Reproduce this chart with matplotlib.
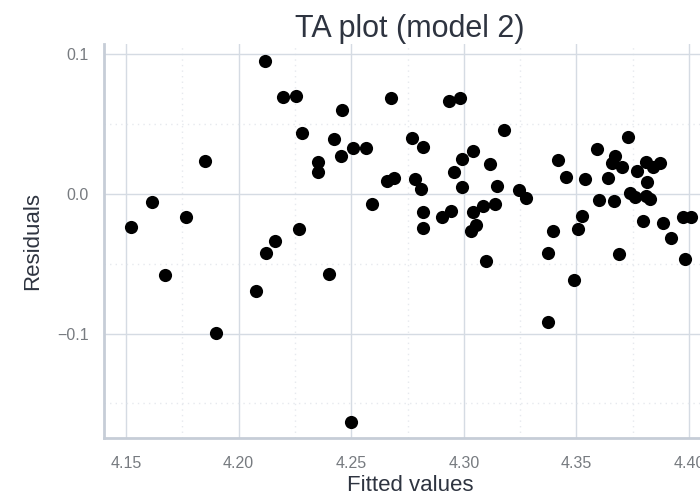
import matplotlib.pyplot as plt
from matplotlib.ticker import MultipleLocator

# fitted values and residuals
fitted = [4.2118, 4.2195, 4.2255, 4.2280, 4.1851, 4.1614, 4.1522, 4.1766, 4.2267, 4.2160,
          4.2121, 4.1673, 4.2076, 4.1898, 4.2401, 4.3098, 4.2499, 4.2678, 4.2934, 4.2982,
          4.2457, 4.2425, 4.2454, 4.2506, 4.2564, 4.2769, 4.2820, 4.2354, 4.2354, 4.2657,
          4.2690, 4.2781, 4.2808, 4.2593, 4.2817, 4.2820, 4.2901, 4.2943, 4.3042, 4.2993,
          4.3117, 4.2956, 4.2991, 4.3148, 4.3043, 4.3086, 4.3139, 4.3052, 4.3031, 4.3178,
          4.3244, 4.3275, 4.3398, 4.3419, 4.3456, 4.3537, 4.3592, 4.3670, 4.3660, 4.3704,
          4.3729, 4.3641, 4.3770, 4.3811, 4.3838, 4.3870, 4.3814, 4.3599, 4.3667, 4.3737,
          4.3759, 4.3811, 4.3829, 4.3523, 4.3508, 4.3796, 4.3885, 4.3922, 4.3974, 4.4011,
          4.3374, 4.3690, 4.3981, 4.3490, 4.3374]
residuals = [0.0951, 0.0698, 0.0705, 0.0435, 0.0239, -0.0060, -0.0239, -0.0167, -0.0251, -0.0335,
             -0.0425, -0.0578, -0.0693, -0.0999, -0.0571, -0.0478, -0.1632, 0.0686, 0.0664, 0.0686,
             0.0602, 0.0396, 0.0272, 0.0332, 0.0332, 0.0404, 0.0335, 0.0227, 0.0160, 0.0095,
             0.0112, 0.0110, 0.0033, -0.0072, -0.0131, -0.0246, -0.0167, -0.0119, 0.0310, 0.0251,
             0.0215, 0.0160, 0.0048, 0.0060, -0.0131, -0.0084, -0.0072, -0.0222, -0.0268, 0.0459,
             0.0031, -0.0029, -0.0265, 0.0244, 0.0124, 0.0108, 0.0320, 0.0270, 0.0222, 0.0196,
             0.0411, 0.0115, 0.0163, 0.0227, 0.0196, 0.0222, 0.0088, -0.0041, -0.0048, 0.0007,
             -0.0024, -0.0012, -0.0036, -0.0155, -0.0251, -0.0191, -0.0208, -0.0318, -0.0167, -0.0167,
             -0.0425, -0.0432, -0.0468, -0.0616, -0.0915]

plt.rcParams['font.family'] = ['Liberation Sans', 'DejaVu Sans']

fig = plt.figure(figsize=(7, 4.97), dpi=100)
# axes run past the right edge of the figure, like the reference crop
ax = fig.add_axes([104 / 700, 59 / 497, 612 / 700, 394 / 497])

ax.scatter(fitted, residuals, s=90, color='black', zorder=3, linewidths=0)

ax.set_xlim(4.1402, 4.412)
ax.set_ylim(-0.1749, 0.1075)

ax.xaxis.set_major_locator(MultipleLocator(0.05))
ax.xaxis.set_minor_locator(MultipleLocator(0.025))
ax.yaxis.set_major_locator(MultipleLocator(0.1))
ax.yaxis.set_minor_locator(MultipleLocator(0.05))
ax.set_xticks([4.15, 4.20, 4.25, 4.30, 4.35, 4.40])
ax.set_xticklabels(['4.15', '4.20', '4.25', '4.30', '4.35', '4.40'])
ax.set_yticks([-0.1, 0.0, 0.1])
ax.set_yticklabels(['\u22120.1', '0.0', '0.1'])

ax.grid(which='major', color='#d5dbe3', linewidth=1.0, zorder=0)
ax.grid(which='minor', color='#e6e9ee', linewidth=1.0, linestyle=(0, (1, 3)), zorder=0)
ax.set_axisbelow(True)

for side in ['top', 'right']:
    ax.spines[side].set_visible(False)
for side in ['left', 'bottom']:
    ax.spines[side].set_color('#c6cdd7')
    ax.spines[side].set_linewidth(2.0)

ax.tick_params(which='both', length=0, colors='#777b80', labelsize=11.5)
ax.tick_params(axis='x', pad=13)
ax.tick_params(axis='y', pad=11)

ax.set_xlabel('Fitted values', fontsize=16, color='#2e3440', labelpad=3)
ax.set_ylabel('Residuals', fontsize=16, color='#2e3440', labelpad=10)
ax.set_title('TA plot (model 2)', fontsize=22, color='#2e3440', pad=4)

fig.savefig('out.png', dpi=100)
